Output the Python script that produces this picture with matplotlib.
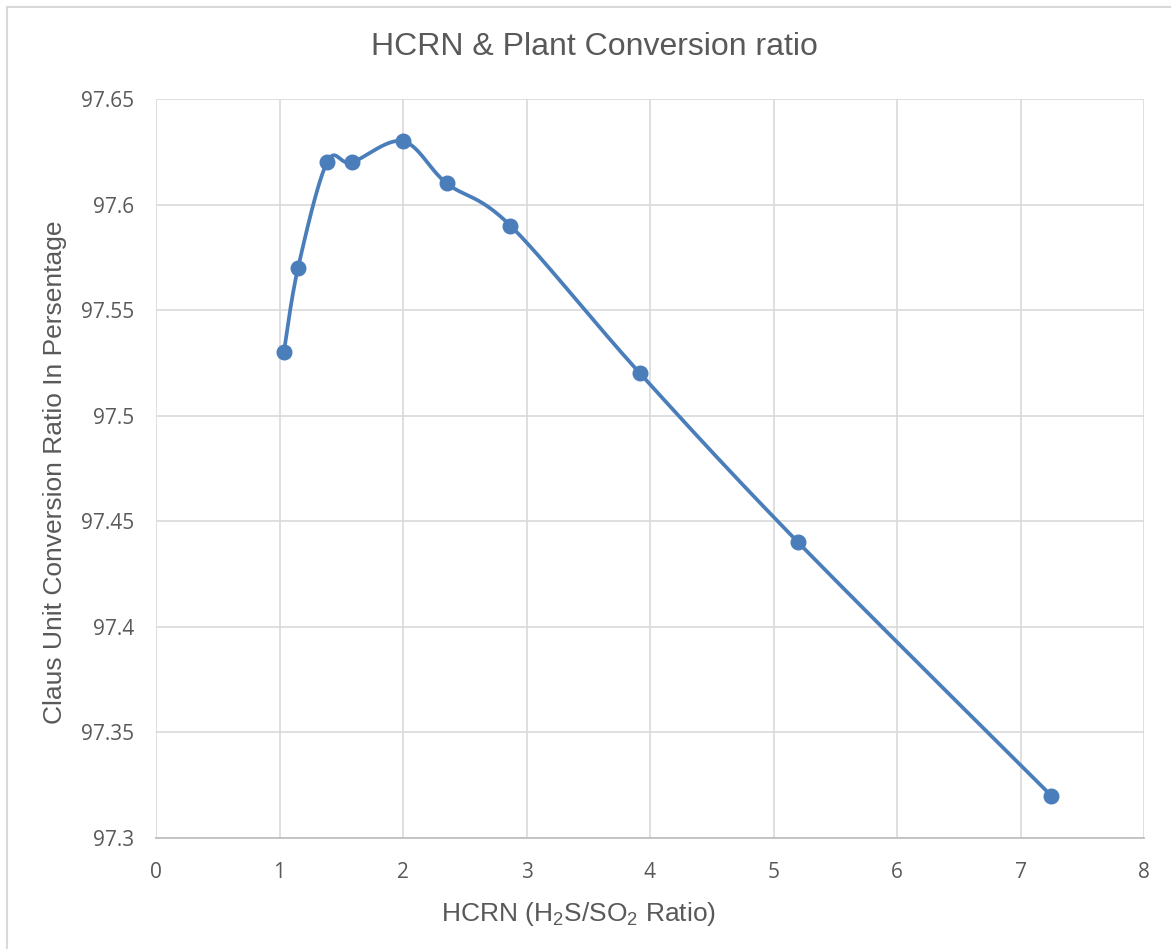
import numpy as np
import matplotlib
matplotlib.use("Agg")
import matplotlib.pyplot as plt
from matplotlib.lines import Line2D

# data
hcrn = [1.035, 1.15, 1.385, 1.585, 2.0, 2.355, 2.87, 3.92, 5.2, 7.25]
conversion = [97.53, 97.57, 97.62, 97.62, 97.63, 97.61, 97.59, 97.52, 97.44, 97.32]
x_ticks = [0, 1, 2, 3, 4, 5, 6, 7, 8]
y_ticks = [97.3, 97.35, 97.4, 97.45, 97.5, 97.55, 97.6, 97.65]
y_tick_labels = ["97.3", "97.35", "97.4", "97.45", "97.5", "97.55", "97.6", "97.65"]

BLUE = "#4a7ebb"
GREY_TXT = "#595959"
GRID = "#d9d9d9"

plt.rcParams['mathtext.fontset'] = 'custom'
plt.rcParams['mathtext.rm'] = 'Liberation Sans'


def smooth_curve(x, y, n=40):
    """Bezier smoothing like the spreadsheet 'smoothed line'."""
    p = np.column_stack([x, y])
    pts = np.vstack([p[0], p, p[-1]])
    out = []
    t = np.linspace(0, 1, n)[:, None]
    for i in range(1, len(pts) - 2):
        p0, p3 = pts[i], pts[i + 1]
        c1 = p0 + (pts[i + 1] - pts[i - 1]) / 6
        c2 = p3 - (pts[i + 2] - pts[i]) / 6
        seg = ((1 - t) ** 3) * p0 + 3 * ((1 - t) ** 2) * t * c1 + 3 * (1 - t) * t ** 2 * c2 + t ** 3 * p3
        out.append(seg)
    out = np.vstack(out)
    return out[:, 0], out[:, 1]


W, H = 1171, 949
fig = plt.figure(figsize=(W / 100, H / 100), dpi=100)
ax = fig.add_axes([156 / W, 1 - 838 / H, (1144 - 156) / W, (838 - 99) / H])

sx, sy = smooth_curve(hcrn, conversion)
ax.plot(sx, sy, color=BLUE, lw=2.7, solid_capstyle='round', zorder=3)
ax.plot(hcrn, conversion, 'o', color=BLUE, ms=10.5, zorder=4)

ax.set_xlim(0, 8)
ax.set_ylim(97.3, 97.65)
ax.set_xticks(x_ticks)
ax.set_yticks(y_ticks)
ax.set_yticklabels(y_tick_labels)
ax.grid(True, color=GRID, lw=1.2, zorder=0)
ax.set_axisbelow(True)
for s in ['top', 'right', 'left']:
    ax.spines[s].set_visible(False)
ax.spines['bottom'].set_color('#bfbfbf')
ax.spines['bottom'].set_linewidth(1.3)
ax.tick_params(length=0, labelsize=15, labelcolor=GREY_TXT)
ax.tick_params(axis='x', pad=17)
ax.tick_params(axis='y', pad=16)
for lab in ax.get_xticklabels() + ax.get_yticklabels():
    lab.set_fontfamily('Open Sans')

fig.text(579 / W, 1 - 914 / H, r'HCRN (H$_2$S/SO$_2$ Ratio)', fontsize=19, color=GREY_TXT,
         family='Liberation Sans', ha='center', va='center')
fig.text(55 / W, 1 - 472 / H, 'Claus Unit Conversion Ratio In Persentage', fontsize=19,
         color=GREY_TXT, family='Liberation Sans', ha='center', va='center', rotation=90)
fig.text(594 / W, 1 - 47 / H, 'HCRN & Plant Conversion ratio', fontsize=23,
         color=GREY_TXT, family='Liberation Sans', ha='center', va='center')

# chart frame (top and left edges visible)
fig.add_artist(Line2D([7 / W, 1], [1 - 7 / H, 1 - 7 / H], color='#d9d9d9', lw=1.5,
                      transform=fig.transFigure))
fig.add_artist(Line2D([7 / W, 7 / W], [0, 1 - 7 / H], color='#d9d9d9', lw=1.5,
                      transform=fig.transFigure))

fig.savefig('out.png', dpi=100)
